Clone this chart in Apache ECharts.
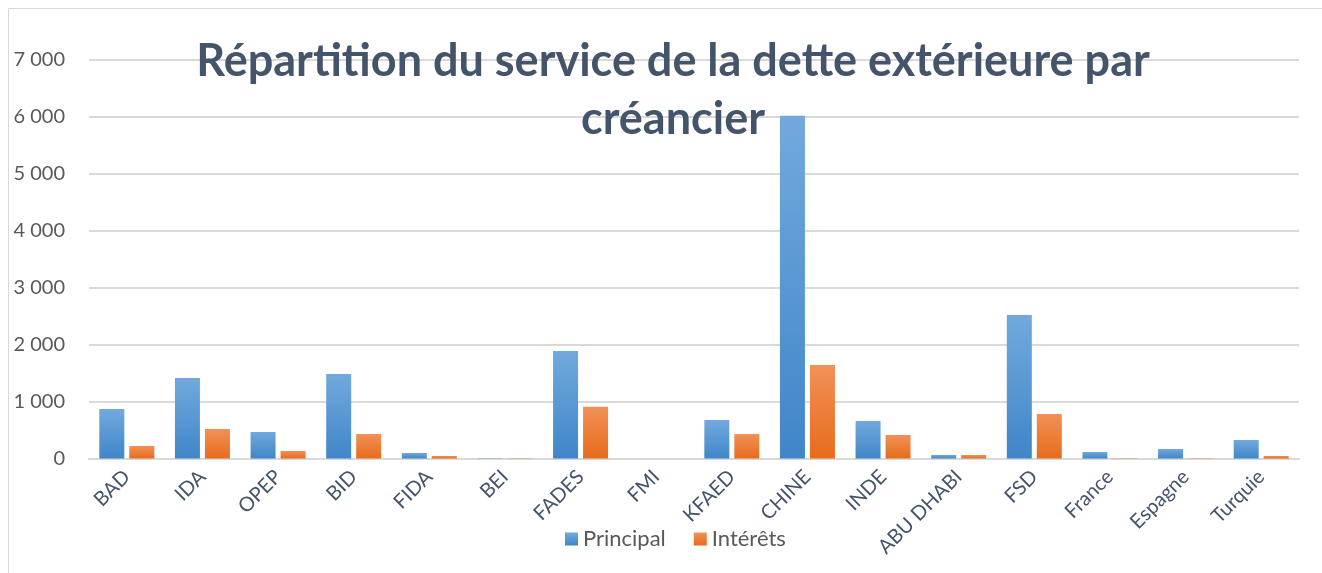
<!DOCTYPE html>
<html>
<head>
<meta charset="utf-8">
<script src="https://cdn.jsdelivr.net/npm/echarts@6/dist/echarts.min.js"></script>
<style>
  html, body { margin: 0; padding: 0; background: #fff; }
  #chart { width: 1322px; height: 573px; }
</style>
</head>
<body>
<div id="chart"></div>
<script>
const categories = ["BAD", "IDA", "OPEP", "BID", "FIDA", "BEI", "FADES", "FMI", "KFAED", "CHINE", "INDE", "ABU DHABI", "FSD", "France", "Espagne", "Turquie"];
const principal = [870, 1415, 466, 1485, 97, 5, 1890, 0, 677, 6020, 660, 62, 2522, 114, 167, 325];
const interets = [220, 518, 132, 430, 44, 5, 910, 0, 430, 1643, 413, 62, 782, 5, 5, 44];

const chart = echarts.init(document.getElementById("chart"));

function grad(top, bottom) {
  return new echarts.graphic.LinearGradient(0, 0, 0, 1, [
    { offset: 0, color: top },
    { offset: 1, color: bottom }
  ]);
}

const font = "Lato, 'Open Sans', sans-serif";

chart.setOption({
  animation: false,
  textStyle: { fontFamily: font },
  graphic: [{
    type: "rect",
    shape: { x: 8.5, y: 8.5, width: 1330, height: 580 },
    style: { fill: "none", stroke: "#d9d9d9", lineWidth: 1 },
    silent: true
  }],
  title: {
    text: "Répartition du service de la dette extérieure par\ncréancier",
    left: 668,
    textAlign: "center",
    top: 27,
    textStyle: {
      fontFamily: font,
      fontSize: 45,
      fontWeight: "bold",
      color: "#44546a",
      lineHeight: 58
    }
  },
  legend: {
    bottom: 18,
    left: 560,
    itemWidth: 13,
    itemHeight: 13,
    itemGap: 28,
    icon: "rect",
    textStyle: { fontSize: 22, color: "#595959", fontFamily: font },
    data: ["Principal", "Intérêts"]
  },
  grid: { left: 89, right: 23, top: 60, bottom: 114.5 },
  xAxis: {
    type: "category",
    data: categories,
    axisLine: { lineStyle: { color: "#d9d9d9", width: 2 } },
    axisTick: { show: false },
    axisLabel: {
      rotate: 45,
      interval: 0,
      margin: 15,
      fontSize: 20,
      color: "#44546a",
      fontFamily: font
    }
  },
  yAxis: {
    type: "value",
    min: 0,
    max: 7000,
    interval: 1000,
    axisLine: { show: false },
    axisTick: { show: false },
    splitLine: { lineStyle: { color: "#d9d9d9", width: 2 } },
    axisLabel: {
      margin: 24,
      fontSize: 20,
      color: "#595959",
      fontFamily: font,
      formatter: v => v === 0 ? "0" : String(v).replace(/\B(?=(\d{3})+(?!\d))/g, " ")
    }
  },
  series: [
    {
      name: "Principal",
      type: "bar",
      data: principal,
      barWidth: 25,
      barGap: "20%",
      itemStyle: { color: grad("#72a9dd", "#3f86c9") }
    },
    {
      name: "Intérêts",
      type: "bar",
      data: interets,
      barWidth: 25,
      itemStyle: { color: grad("#f19158", "#e86b1b") }
    }
  ]
});
</script>
</body>
</html>
